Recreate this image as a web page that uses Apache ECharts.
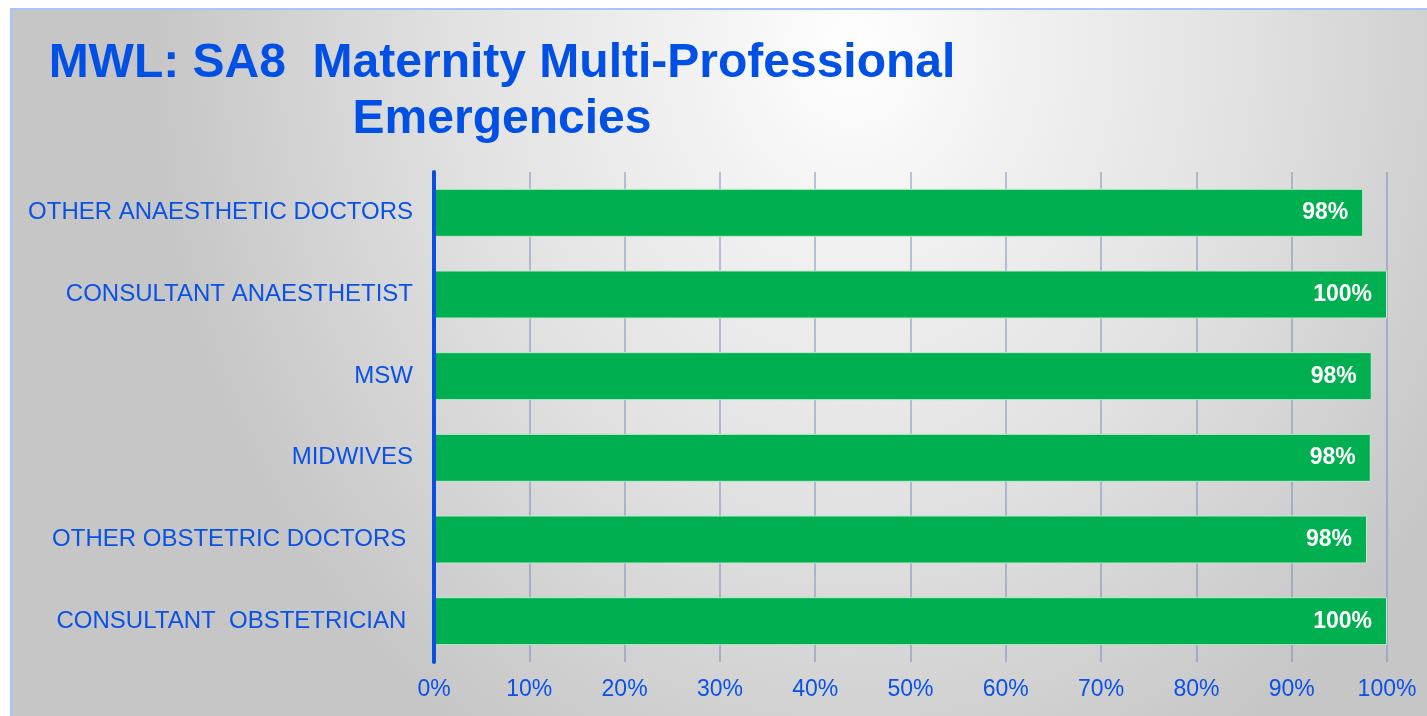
<!DOCTYPE html>
<html>
<head>
<meta charset="utf-8">
<script src="https://cdn.jsdelivr.net/npm/echarts@6/dist/echarts.min.js"></script>
<style>
  html, body { margin: 0; padding: 0; background: #ffffff; }
  #wrap { position: absolute; left: 0; top: 0; width: 1427px; height: 716px; background: #ffffff; }
  #panel {
    position: absolute; left: 10px; top: 8px; width: 1417px; height: 708px;
    box-sizing: border-box;
    border-left: 2px solid #a8c2ff; border-top: 2px solid #a8c2ff;
    background: radial-gradient(ellipse 700px 820px at 840px 40px, #ffffff 0%, #f2f2f2 22%, #e2e2e2 55%, #c6c6c6 100%);
  }
  #chart { position: absolute; left: 0; top: 0; width: 1427px; height: 716px; }
</style>
</head>
<body>
<div id="wrap">
  <div id="panel"></div>
  <div id="chart"></div>
</div>
<script>
// Staff groups, listed bottom to top as the category axis draws them
const categories = [
  'CONSULTANT  OBSTETRICIAN ',
  'OTHER OBSTETRIC DOCTORS ',
  'MIDWIVES',
  'MSW',
  'CONSULTANT ANAESTHETIST',
  'OTHER ANAESTHETIC DOCTORS'
];
// Share of staff trained (%)
const values = [100, 97.9, 98.3, 98.4, 100, 97.5];
// Value axis tick marks
const tickValues = [0, 10, 20, 30, 40, 50, 60, 70, 80, 90, 100];

const titleText = 'MWL: SA8  Maternity Multi-Professional\nEmergencies';
const blue = '#0a52e6';
const font = 'Liberation Sans, Arial, sans-serif';

const chart = echarts.init(document.getElementById('chart'), null, { renderer: 'canvas' });
chart.setOption({
  backgroundColor: 'transparent',
  animation: false,
  graphic: [{
    type: 'text',
    x: 502,
    y: 36,
    style: {
      text: titleText,
      align: 'center',
      verticalAlign: 'top',
      font: 'bold 48px ' + font,
      lineHeight: 56,
      fill: '#0050e6'
    }
  }],
  grid: { left: 434, right: 40, top: 172, bottom: 54, containLabel: false },
  xAxis: {
    type: 'value',
    min: tickValues[0],
    max: tickValues[tickValues.length - 1],
    interval: 10,
    axisLine: { show: false },
    axisTick: { show: false },
    splitLine: { show: true, lineStyle: { color: 'rgba(110,130,180,0.45)', width: 2 } },
    axisLabel: {
      formatter: '{value}%',
      color: blue,
      fontFamily: font,
      fontSize: 23,
      margin: 16
    }
  },
  yAxis: {
    type: 'category',
    data: categories,
    z: 5,
    axisLine: { show: true, lineStyle: { color: '#0a50e0', width: 4 } },
    axisTick: { show: false },
    splitLine: { show: false },
    axisLabel: {
      color: blue,
      fontFamily: font,
      fontSize: 24,
      margin: 21
    }
  },
  series: [{
    type: 'bar',
    data: values,
    barWidth: 48,
    itemStyle: { color: '#00b050', borderColor: '#bfe8cc', borderWidth: 1 },
    label: {
      show: true,
      position: 'insideRight',
      distance: 15,
      formatter: p => Math.round(p.value) + '%',
      color: '#ffffff',
      fontWeight: 'bold',
      fontFamily: font,
      fontSize: 23
    }
  }]
});
</script>
</body>
</html>
